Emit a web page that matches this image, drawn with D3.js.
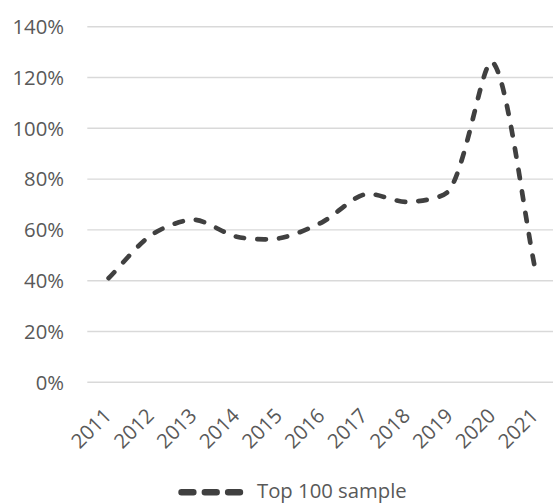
<!DOCTYPE html>
<html>
<head>
<meta charset="utf-8">
<script src="https://cdn.jsdelivr.net/npm/d3@7"></script>
<style>
  html, body { margin: 0; padding: 0; background: #fff; }
  svg { display: block; }
  text { font-family: "Open Sans", "Noto Sans", sans-serif; fill: #595959; }
</style>
</head>
<body>
<svg id="chart" width="553" height="504"></svg>
<script>
// Share of the year, top 100 sample
const years = ["2011", "2012", "2013", "2014", "2015", "2016", "2017", "2018", "2019", "2020", "2021"];
const topSample = [0.41, 0.58, 0.64, 0.573, 0.567, 0.63, 0.74, 0.71, 0.76, 1.26, 0.44];
const yTicks = [0, 0.2, 0.4, 0.6, 0.8, 1.0, 1.2, 1.4];
const seriesName = "Top 100 sample";

const svg = d3.select("#chart");
const plotLeft = 87.3, plotRight = 556.8, plotTop = 26.7, plotBottom = 382.3;

const x = d3.scaleBand().domain(years).range([plotLeft, plotRight]);
const y = d3.scaleLinear().domain([0, 1.4]).range([plotBottom, plotTop]);
const fmt = d3.format(".0%");

// horizontal gridlines
svg.append("g")
  .selectAll("line")
  .data(yTicks)
  .join("line")
  .attr("x1", plotLeft)
  .attr("x2", plotRight)
  .attr("y1", d => y(d))
  .attr("y2", d => y(d))
  .attr("stroke", "#d9d9d9")
  .attr("stroke-width", 1.4);

// y axis labels
svg.append("g")
  .selectAll("text")
  .data(yTicks)
  .join("text")
  .attr("x", 64)
  .attr("y", d => y(d))
  .attr("dy", "0.36em")
  .attr("text-anchor", "end")
  .style("font-size", "20.3px")
  .text(d => fmt(d));

// rotated category labels
svg.append("g")
  .selectAll("text")
  .data(years)
  .join("text")
  .attr("transform", d => `translate(${x(d) + x.bandwidth() / 2 + 4},417) rotate(-45)`)
  .attr("text-anchor", "end")
  .style("font-size", "20.3px")
  .text(d => d);

// Smoothed line: cubic Bezier segments whose handles follow the neighbour
// tangent, scaled by the lengths of the adjacent segments.
const handleFactor = 0.28;
function smoothPath(pts) {
  const p = d3.path();
  const n = pts.length;
  const dist = (a, b) => Math.hypot(b[0] - a[0], b[1] - a[1]);
  p.moveTo(pts[0][0], pts[0][1]);
  for (let i = 0; i < n - 1; i++) {
    const p0 = pts[Math.max(i - 1, 0)], p1 = pts[i], p2 = pts[i + 1], p3 = pts[Math.min(i + 2, n - 1)];
    const d01 = dist(p0, p1), d12 = dist(p1, p2), d23 = dist(p2, p3);
    const s1 = (d01 + d12) ? d12 / (d01 + d12) * handleFactor : 0;
    const s2 = (d12 + d23) ? d12 / (d12 + d23) * handleFactor : 0;
    const c1 = [p1[0] + (p2[0] - p0[0]) * s1, p1[1] + (p2[1] - p0[1]) * s1];
    const c2 = [p2[0] - (p3[0] - p1[0]) * s2, p2[1] - (p3[1] - p1[1]) * s2];
    p.bezierCurveTo(c1[0], c1[1], c2[0], c2[1], p2[0], p2[1]);
  }
  return p.toString();
}

const points = topSample.map((v, i) => [x(years[i]) + x.bandwidth() / 2, y(v)]);

svg.append("path")
  .attr("d", smoothPath(points))
  .attr("fill", "none")
  .attr("stroke", "#404040")
  .attr("stroke-width", 4.7)
  .attr("stroke-linecap", "round")
  .attr("stroke-linejoin", "round")
  .attr("stroke-dasharray", "8.5 13.2");

// legend
const legend = svg.append("g");
legend.append("line")
  .attr("x1", 181.5).attr("x2", 241.8)
  .attr("y1", 492.3).attr("y2", 492.3)
  .attr("stroke", "#404040")
  .attr("stroke-width", 6.4)
  .attr("stroke-linecap", "round")
  .attr("stroke-dasharray", "11.9 11.4");
legend.append("text")
  .attr("x", 257)
  .attr("y", 498)
  .style("font-size", "20.3px")
  .text(seriesName);
</script>
</body>
</html>
